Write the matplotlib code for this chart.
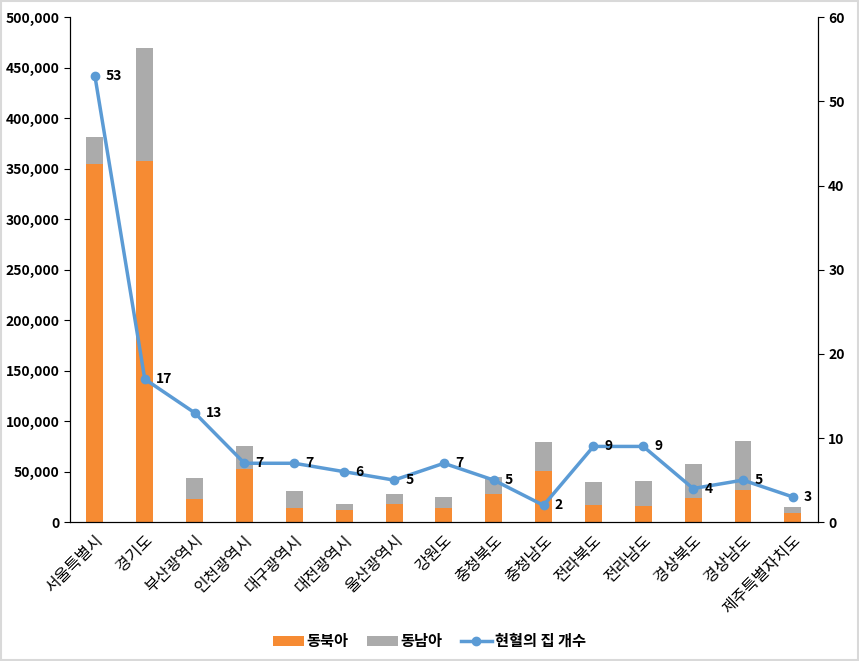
import numpy as np
import matplotlib.pyplot as plt
from matplotlib.ticker import FuncFormatter

plt.rcParams['font.family'] = ['Noto Sans CJK KR', 'DejaVu Sans']

regions = ['서울특별시', '경기도', '부산광역시', '인천광역시', '대구광역시', '대전광역시',
           '울산광역시', '강원도', '충청북도', '충청남도', '전라북도', '전라남도',
           '경상북도', '경상남도', '제주특별자치도']
northeast = [355000, 358000, 23000, 53000, 14000, 12000, 18000, 14000,
             28000, 51000, 17000, 16000, 24000, 32000, 9000]
total = [381000, 469000, 44000, 75000, 31000, 18000, 28000, 25000,
         45000, 79000, 40000, 41000, 58000, 80000, 15000]
southeast = [t - n for t, n in zip(total, northeast)]
houses = [53, 17, 13, 7, 7, 6, 5, 7, 5, 2, 9, 9, 4, 5, 3]

orange = '#F68B33'
gray = '#ABABAB'
blue = '#5B9BD5'

fig = plt.figure(figsize=(8.59, 6.61), dpi=100)
ax = fig.add_axes([0.0815, 0.21, 0.8705, 0.764])
x = np.arange(len(regions))
w = 0.34

ax.bar(x, northeast, w, color=orange, label='동북아', zorder=2)
ax.bar(x, southeast, w, bottom=northeast, color=gray, label='동남아', zorder=2)
ax.set_ylim(0, 500000)
ax.set_xlim(-0.5, len(regions) - 0.5)
ax.set_yticks(np.arange(0, 500001, 50000))
ax.yaxis.set_major_formatter(FuncFormatter(lambda v, p: f'{int(v):,}'))
ax.set_xticks(x)
ax.set_xticklabels(regions, rotation=45, ha='right', rotation_mode='anchor', fontsize=11.5)
ax.tick_params(axis='y', labelsize=10, direction='out', length=4)
ax.tick_params(axis='x', length=0, pad=7)
for lab in ax.get_yticklabels():
    lab.set_fontweight('bold')
ax.spines['top'].set_visible(False)

ax2 = ax.twinx()
ax2.plot(x, houses, color=blue, lw=2.5, marker='o', ms=6, label='현혈의 집 개수', zorder=3)
ax2.set_ylim(0, 60)
ax2.set_yticks(np.arange(0, 61, 10))
ax2.tick_params(axis='y', labelsize=10, direction='out', length=4)
for lab in ax2.get_yticklabels():
    lab.set_fontweight('bold')
ax2.spines['top'].set_visible(False)
for xi, h in zip(x, houses):
    ax2.annotate(str(h), (xi, h), xytext=(8, 0), textcoords='offset points',
                 va='center', ha='left', fontsize=10, fontweight='bold')

h1, l1 = ax.get_legend_handles_labels()
h2, l2 = ax2.get_legend_handles_labels()
fig.legend(h1 + h2, l1 + l2, loc='center', bbox_to_anchor=(0.5, 0.03), ncol=3,
           frameon=False, prop={'size': 11, 'weight': 'bold'}, handlelength=2.0,
           handleheight=0.6, columnspacing=1.2, handletextpad=0.2)

fig.patches.append(plt.Rectangle((0.001, 0.001), 0.998, 0.998, transform=fig.transFigure,
                                 fill=False, edgecolor='#D9D9D9', lw=1.5))
fig.savefig('out.png', dpi=100)
